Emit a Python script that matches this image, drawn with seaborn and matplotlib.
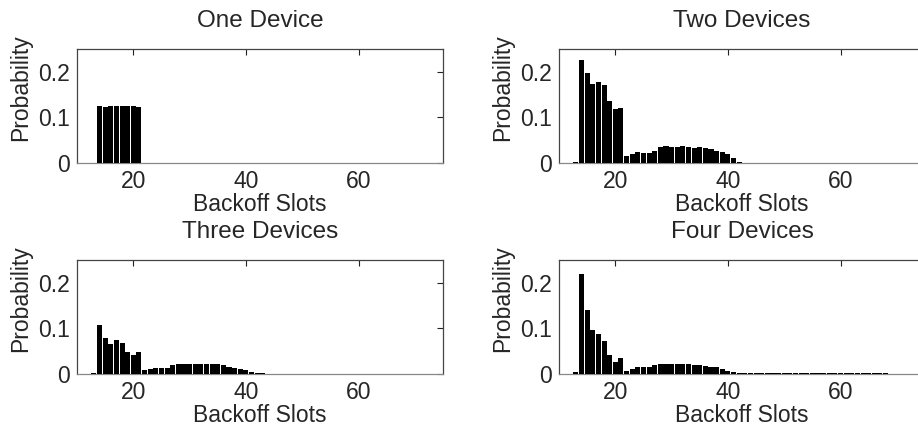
import matplotlib
matplotlib.use("Agg")
import matplotlib.pyplot as plt
import pandas as pd
import seaborn as sns

# ---------------- data ----------------
slots = list(range(13, 76))

one_device = [
    0.001,
    0.124, 0.123, 0.125, 0.125, 0.125, 0.125, 0.125, 0.123,
    0.001, 0.001, 0.001, 0.001, 0.001, 0.001, 0.001, 0.001, 0.001, 0.001,
    0.001, 0.001, 0.001, 0.001, 0.001, 0.001, 0.001, 0.001, 0.001, 0.001,
    0.001, 0.0, 0.0, 0.0, 0.001, 0.001, 0.001, 0.0, 0.001, 0.001,
    0.001, 0.0, 0.0, 0.001, 0.001, 0.0, 0.001, 0.001, 0.0, 0.001,
    0.001, 0.001, 0.0, 0.0, 0.001, 0.0, 0.001, 0.001, 0.0, 0.001,
    0.0, 0.0, 0.0, 0.0,
]

two_devices = [
    0.003,
    0.225, 0.197, 0.173, 0.177, 0.170, 0.137, 0.119, 0.121,
    0.0145, 0.020, 0.024, 0.022, 0.021, 0.026, 0.034, 0.037, 0.036, 0.036,
    0.037, 0.035, 0.033, 0.035, 0.033, 0.030, 0.027, 0.025, 0.020, 0.011,
    0.003,
    0.001, 0.001, 0.001, 0.001, 0.001, 0.001, 0.001, 0.001, 0.001, 0.001,
    0.001, 0.001, 0.001, 0.001, 0.001, 0.0, 0.001, 0.001, 0.001, 0.0,
    0.0, 0.001, 0.001, 0.0, 0.001, 0.0, 0.0, 0.0, 0.001, 0.001,
    0.0, 0.0, 0.0,
]

three_devices = [
    0.002,
    0.107, 0.080, 0.066, 0.074, 0.069, 0.049, 0.042, 0.049,
    0.008, 0.012, 0.013, 0.013, 0.013, 0.019, 0.021, 0.021, 0.021, 0.022,
    0.022, 0.022, 0.021, 0.021, 0.019, 0.016, 0.014, 0.011, 0.008, 0.004,
    0.003, 0.002,
    0.001, 0.001, 0.001, 0.001, 0.001, 0.001, 0.001, 0.001, 0.001, 0.001,
    0.001, 0.001, 0.001, 0.001, 0.001, 0.001, 0.001, 0.001, 0.001, 0.001,
    0.001, 0.001, 0.001, 0.001, 0.001, 0.001, 0.001, 0.001, 0.001, 0.001,
    0.001, 0.001,
]

four_devices = [
    0.005,
    0.220, 0.141, 0.096, 0.088, 0.072, 0.041, 0.027, 0.036,
    0.007, 0.012, 0.016, 0.0145, 0.015, 0.020, 0.023, 0.022, 0.022, 0.022,
    0.022, 0.021, 0.020, 0.0195, 0.018, 0.016, 0.0145, 0.012, 0.006, 0.0035,
    0.003, 0.003,
    0.003, 0.003, 0.003, 0.0025, 0.0025, 0.0025, 0.0025, 0.002, 0.002, 0.002,
    0.002, 0.002, 0.002, 0.002, 0.002, 0.002, 0.002, 0.0015, 0.0015, 0.0015,
    0.0015, 0.0015, 0.0015, 0.0015, 0.0015, 0.001, 0.001, 0.001, 0.001, 0.001,
    0.001, 0.001,
]

titles = ["One Device", "Two Devices", "Three Devices", "Four Devices"]
series = [one_device, two_devices, three_devices, four_devices]
x_label = "Backoff Slots"
y_label = "Probability"
x_ticks = [20, 40, 60]
y_ticks = [0, 0.1, 0.2]
y_tick_labels = ["0", "0.1", "0.2"]

# ---------------- style ----------------
sns.set_style("white")
plt.rcParams["font.family"] = ["Liberation Sans", "DejaVu Sans"]

W, H = 918, 428
fig = plt.figure(figsize=(W / 100, H / 100), dpi=100)

ax_w, ax_h = 366, 114
boxes = [(77, 49), (559, 49), (77, 260), (559, 260)]  # (left, top) in px

fs = 16.5
for (left, top), title, vals in zip(boxes, titles, series):
    ax = fig.add_axes([left / W, 1 - (top + ax_h) / H, ax_w / W, ax_h / H])
    df = pd.DataFrame({"slot": slots, "prob": vals})
    sns.histplot(data=df, x="slot", weights="prob", discrete=True, shrink=0.9,
                 color="black", alpha=1, edgecolor="none", linewidth=0, ax=ax)
    for p in ax.patches:
        p.set_zorder(3)
    ax.set_xlim(10, 75)
    ax.set_ylim(0, 0.25)
    ax.set_xticks(x_ticks)
    ax.set_yticks(y_ticks)
    ax.set_yticklabels(y_tick_labels)
    ax.tick_params(direction="in", top=True, right=True, length=4, width=0.8,
                   color="#222222", labelsize=fs, pad=5)
    ax.tick_params(axis="x", pad=5)
    for sp in ax.spines.values():
        sp.set_color("#444444")
        sp.set_linewidth(0.9)
        sp.set_visible(True)
    ax.spines["bottom"].set_color("#888888")
    ax.set_xlabel(x_label, fontsize=fs, labelpad=0)
    ax.set_ylabel(y_label, fontsize=fs, labelpad=3)
    ax.yaxis.set_label_coords(-0.123, 0.66)
    ax.set_title(title, fontsize=17.5, pad=16)

fig.savefig("out.png", dpi=100)
